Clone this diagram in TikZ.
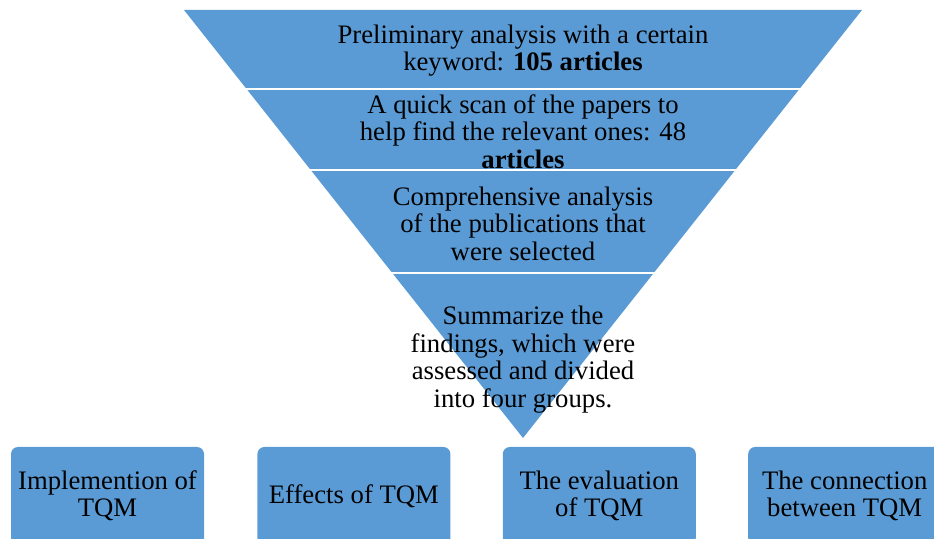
\documentclass[tikz,border=0pt]{standalone}
\usepackage{fontspec}
\setmainfont{Liberation Serif}
\usetikzlibrary{positioning}
\definecolor{funnelblue}{RGB}{91,155,213}

\begin{document}
\begin{tikzpicture}[x=1pt, y=1pt,
    bandtext/.style={align=center, font=\rmfamily\fontsize{26.7}{27.5}\selectfont, inner sep=0pt},
    group/.style={rectangle, rounded corners=7pt, fill=funnelblue, minimum width=193pt, minimum height=98pt, align=center, font=\rmfamily\fontsize{26.7}{27.5}\selectfont, inner sep=2pt},
    gap/.style={draw=white, line width=2.6pt}]
    \useasboundingbox (0,0) rectangle (934,538);

    % funnel
    \coordinate (tl) at (184,528);
    \coordinate (tr) at (862,528);
    \coordinate (apex) at (523,100);
    \fill [funnelblue] (tl) -- (tr) -- (apex) -- cycle;
    \foreach \y in {449,368,265}
      \draw [gap] (150,\y) -- (900,\y);

    \node [bandtext] (band1) at (523,487.5) {Preliminary analysis with a certain\\keyword: \textbf{105 articles}};
    \node [bandtext] (band2) at (523,406.5) {A quick scan of the papers to\\help find the relevant ones: 48\\\textbf{articles}};
    \node [bandtext] (band3) at (523,314.5) {Comprehensive analysis\\of the publications that\\were selected};
    \node [bandtext] (band4) at (523,178.5) {Summarize the\\findings, which were\\assessed and divided\\into four groups.};

    % four groups
    \node [group] (impl) at (107.5,42) {Implemention of\\TQM};
    \node [group, right=53pt of impl] (effects) {Effects of TQM};
    \node [group, right=52pt of effects] (eval) {The evaluation\\of TQM};
    \node [group, right=52pt of eval] (conn) {The connection\\between TQM};
  \end{tikzpicture}
\end{document}
